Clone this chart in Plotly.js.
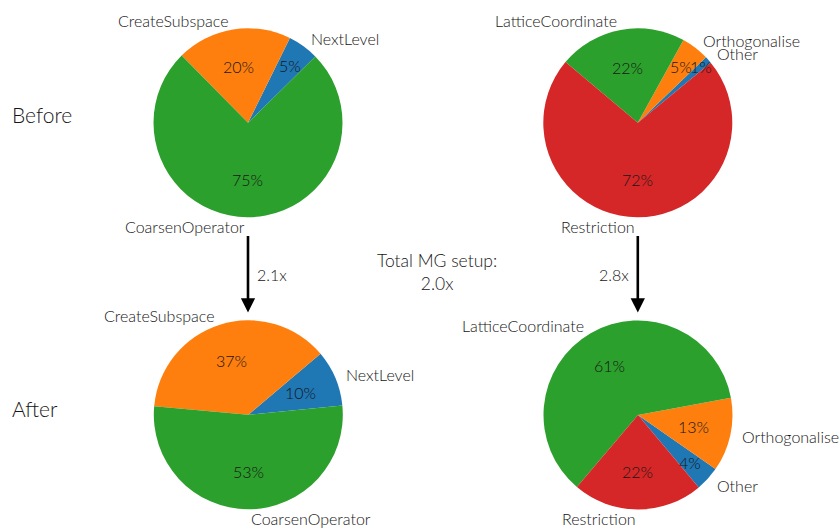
<!DOCTYPE html>
<html>
<head>
<meta charset="utf-8">
<script src="https://cdn.plot.ly/plotly-3.0.1.min.js"></script>
<style>html,body{margin:0;padding:0;background:#fff;}#chart{width:840px;height:528px;}</style>
</head>
<body>
<div id="chart"></div>
<script>
// ---- data ----
const beforeLeftLabels = ['NextLevel', 'CreateSubspace', 'CoarsenOperator'];
const beforeLeftValues = [5.3, 19.7, 75.0];
const beforeRightLabels = ['Other', 'Orthogonalise', 'LatticeCoordinate', 'Restriction'];
const beforeRightValues = [1.2, 4.8, 21.9, 72.1];
const afterLeftLabels = ['NextLevel', 'CreateSubspace', 'CoarsenOperator'];
const afterLeftValues = [9.6, 37.4, 53.0];
const afterRightLabels = ['Other', 'Orthogonalise', 'LatticeCoordinate', 'Restriction'];
const afterRightValues = [4.2, 12.6, 60.9, 22.3];
const rowLabels = ['Before', 'After'];
const speedupLeft = '2.1x';
const speedupRight = '2.8x';
const totalText = 'Total MG setup:<br>2.0x';

// ---- style / layout ----
const W = 840, H = 528;
const FONT = 'Lato, sans-serif';
const WEIGHT = 300;
const TXT = '#161616';
const leftColors = ['#1f77b4', '#ff7f0e', '#2ca02c'];
const rightColors = ['#1f77b4', '#ff7f0e', '#2ca02c', '#d62728'];
const R = 94.5;
const pies = [
  {labels: beforeLeftLabels, values: beforeLeftValues, colors: leftColors, cx: 248, cy: 122.8, start: 44.6},
  {labels: beforeRightLabels, values: beforeRightValues, colors: rightColors, cx: 637.8, cy: 122.8, start: 39.5},
  {labels: afterLeftLabels, values: afterLeftValues, colors: leftColors, cx: 248.3, cy: 414.8, start: 5.6},
  {labels: afterRightLabels, values: afterRightValues, colors: rightColors, cx: 638, cy: 415, start: -50}
];
// distance of the percentage text from the centre, as a fraction of the radius
const pctDist = frac => frac < 0.02 ? 0.89 : (frac < 0.06 ? 0.75 : 0.6);
const px = x => x / W;
const py = y => 1 - y / H;
const font = (size) => ({family: FONT, size: size, color: TXT, weight: WEIGHT});

const traces = [];
const annotations = [];
pies.forEach(p => {
  const total = p.values.reduce((a, b) => a + b, 0);
  const firstSpan = p.values[0] / total * 360;
  traces.push({
    type: 'pie', labels: p.labels, values: p.values, sort: false,
    direction: 'counterclockwise', rotation: 90 - p.start - firstSpan,
    marker: {colors: p.colors, line: {width: 0}},
    textinfo: 'none', showlegend: false, hoverinfo: 'label+percent',
    domain: {x: [px(p.cx - R), px(p.cx + R)], y: [py(p.cy + R), py(p.cy - R)]}
  });
  let a0 = p.start;
  p.values.forEach((v, i) => {
    const span = v / total * 360;
    const mid = (a0 + span / 2) * Math.PI / 180;
    a0 += span;
    const c = Math.cos(mid), s = Math.sin(mid);
    annotations.push({
      xref: 'paper', yref: 'paper', showarrow: false,
      x: px(p.cx + 1.1 * R * c), y: py(p.cy - 1.1 * R * s),
      xanchor: c > 0 ? 'left' : 'right', yanchor: 'middle',
      text: p.labels[i], font: font(16)
    });
    const d = pctDist(v / total);
    annotations.push({
      xref: 'paper', yref: 'paper', showarrow: false,
      x: px(p.cx + d * R * c), y: py(p.cy - d * R * s),
      xanchor: 'center', yanchor: 'middle',
      text: Math.round(v / total * 100) + '%', font: font(16)
    });
  });
});

// row labels
annotations.push({xref: 'paper', yref: 'paper', showarrow: false, x: px(10), y: py(115), xanchor: 'left', yanchor: 'middle',
  text: rowLabels[0], font: font(21)});
annotations.push({xref: 'paper', yref: 'paper', showarrow: false, x: px(10), y: py(408), xanchor: 'left', yanchor: 'middle',
  text: rowLabels[1], font: font(21)});
// arrows
[pies[0].cx, pies[1].cx].forEach(x => {
  annotations.push({xref: 'paper', yref: 'paper', x: px(x), y: py(312.5), ax: 0, ay: -78,
    showarrow: true, arrowhead: 2, arrowsize: 1.1, arrowwidth: 2.6, arrowcolor: '#000', standoff: 0, text: ''});
});
annotations.push({xref: 'paper', yref: 'paper', showarrow: false, x: px(255), y: py(274), xanchor: 'left', yanchor: 'middle',
  text: speedupLeft, font: font(16)});
annotations.push({xref: 'paper', yref: 'paper', showarrow: false, x: px(631), y: py(274), xanchor: 'right', yanchor: 'middle',
  text: speedupRight, font: font(16)});
annotations.push({xref: 'paper', yref: 'paper', showarrow: false, x: px(437), y: py(272), xanchor: 'center', yanchor: 'middle',
  align: 'center', text: totalText, font: font(17.5)});

Plotly.newPlot('chart', traces, {
  width: W, height: H, margin: {l: 0, r: 0, t: 0, b: 0},
  paper_bgcolor: '#fff', plot_bgcolor: '#fff',
  annotations: annotations
}, {staticPlot: true});
</script>
</body>
</html>
